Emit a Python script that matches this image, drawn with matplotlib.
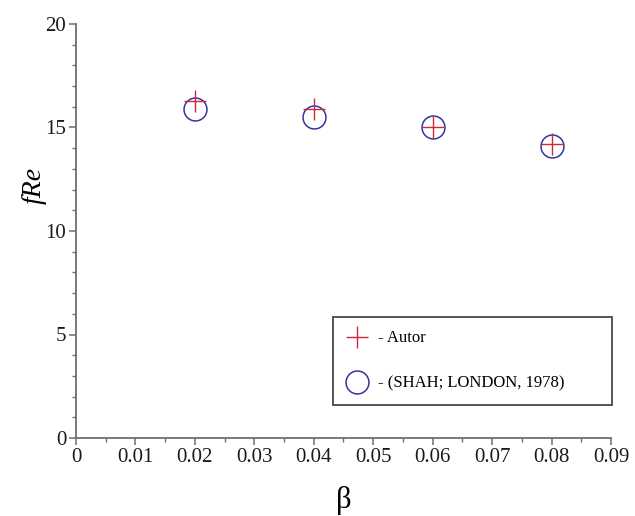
import matplotlib
matplotlib.use("Agg")
from matplotlib import pyplot as plt
from matplotlib.ticker import MultipleLocator, FuncFormatter

beta = [0.02, 0.04, 0.06, 0.08]
fre_autor = [16.3, 15.9, 15.0, 14.2]
fre_shah = [15.9, 15.5, 15.0, 14.1]
label_autor = "- Autor"
label_shah = "- (SHAH; LONDON, 1978)"

serif = ["Liberation Serif", "DejaVu Serif"]
plt.rcParams["font.family"] = serif

fig = plt.figure(figsize=(6.35, 5.16), dpi=100)
ax = fig.add_axes([76 / 635, 1 - 438 / 516, 535 / 635, 414 / 516])

# Maple style points: red crosses and blue circles
ax.plot(beta, fre_autor, linestyle="none", marker="+", markersize=16,
        markeredgewidth=1.0, color="#cc2a36", label=label_autor, zorder=3)
ax.plot(beta, fre_shah, linestyle="none", marker="o", markersize=16.5,
        markerfacecolor="none", markeredgewidth=1.1, markeredgecolor="#34349e",
        label=label_shah, zorder=2)

ax.set_xlim(0, 0.09)
ax.set_ylim(0, 20)
ax.xaxis.set_major_locator(MultipleLocator(0.01))
ax.xaxis.set_minor_locator(MultipleLocator(0.005))
ax.yaxis.set_major_locator(MultipleLocator(5))
ax.yaxis.set_minor_locator(MultipleLocator(1))
ax.xaxis.set_major_formatter(FuncFormatter(lambda v, p: "0" if abs(v) < 1e-9 else f"{v:.2f}"))

spine_col = "#6e6e6e"
for s in ["top", "right"]:
    ax.spines[s].set_visible(False)
for s in ["left", "bottom"]:
    ax.spines[s].set_color(spine_col)
    ax.spines[s].set_linewidth(1.3)
ax.tick_params(which="major", length=5, width=1.1, color=spine_col,
               labelsize=15, pad=2, labelcolor="#1a1a1a")
ax.tick_params(which="minor", length=3, width=1.0, color=spine_col)

ax.set_xlabel("β", fontsize=22, labelpad=14)
ax.set_ylabel("fRe", fontsize=20, style="italic")
ax.yaxis.set_label_coords(-0.054, 0.61)

leg = ax.legend(loc="upper left", bbox_to_anchor=(0.480, 0.077, 0.5215, 0.215),
                mode="expand", fontsize=12, frameon=True, fancybox=False,
                borderpad=0.8, labelspacing=1.75, handlelength=1.3,
                handletextpad=0.6, borderaxespad=0)
leg.get_frame().set_edgecolor("#555555")
leg.get_frame().set_linewidth(1.4)
leg.get_frame().set_alpha(1)

fig.savefig("out.png", dpi=100)
